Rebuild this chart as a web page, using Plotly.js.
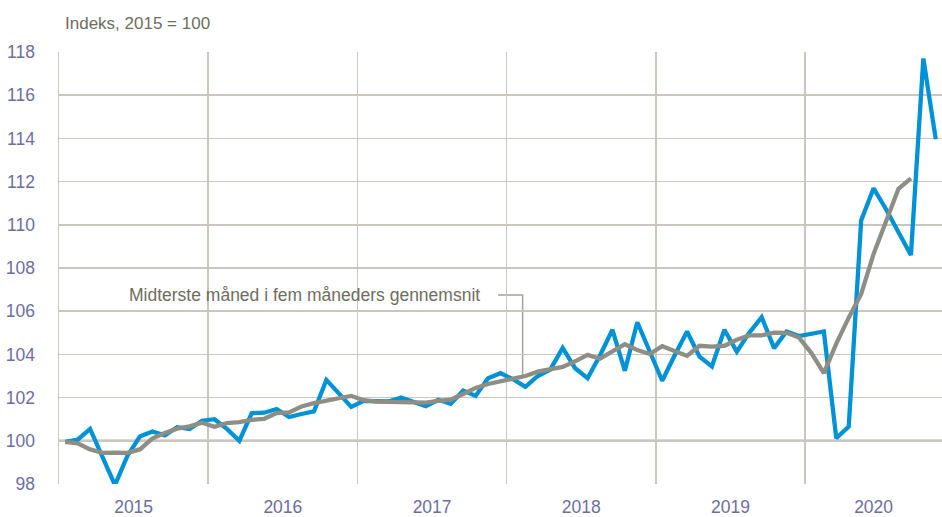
<!DOCTYPE html>
<html>
<head>
<meta charset="utf-8">
<script src="https://cdn.plot.ly/plotly-3.0.1.min.js"></script>
<style>
  html, body { margin: 0; padding: 0; background: #ffffff; }
  #chart { width: 942px; height: 517px; }
</style>
</head>
<body>
<div id="chart"></div>
<script>
// Year labels on the x axis
const years = ['2015', '2016', '2017', '2018', '2019', '2020'];

// Monthly index, Jan 2015 - Nov 2020 (2015 = 100)
const indeks2015 = [99.95, 100.05, 100.55, 99.25, 97.95, 99.3, 100.2, 100.43, 100.25, 100.63, 100.55, 100.93];
const indeks2016 = [101.0, 100.55, 100.0, 101.28, 101.3, 101.47, 101.1, 101.24, 101.36, 102.82, 102.2, 101.57];
const indeks2017 = [101.85, 101.85, 101.82, 102.0, 101.8, 101.6, 101.9, 101.71, 102.33, 102.08, 102.9, 103.13];
const indeks2018 = [102.85, 102.5, 103.0, 103.3, 104.3, 103.36, 102.9, 103.95, 105.14, 103.24, 105.49, 104.1];
const indeks2019 = [102.78, 103.95, 105.06, 103.9, 103.44, 105.14, 104.13, 105.0, 105.72, 104.29, 105.06, 104.85];
const indeks2020 = [104.98, 105.06, 100.12, 100.66, 110.2, 111.69, 110.72, 109.7, 108.6, 117.7, 113.96];

// Middle month of five-month average, Jan 2015 - Sep 2020
const snit2015 = [99.95, 99.88, 99.6, 99.44, 99.45, 99.44, 99.6, 100.1, 100.36, 100.56, 100.67, 100.84];
const snit2016 = [100.65, 100.82, 100.86, 100.97, 101.02, 101.28, 101.31, 101.59, 101.74, 101.83, 101.97, 102.08];
const snit2017 = [101.88, 101.81, 101.8, 101.79, 101.77, 101.77, 101.85, 101.9, 102.17, 102.45, 102.63, 102.75];
const snit2018 = [102.9, 103.0, 103.2, 103.3, 103.42, 103.68, 103.98, 103.8, 104.16, 104.47, 104.2, 104.02];
const snit2019 = [104.38, 104.13, 103.93, 104.4, 104.36, 104.4, 104.68, 104.88, 104.88, 105.01, 105.0, 104.78];
const snit2020 = [104.06, 103.13, 104.5, 105.7, 106.8, 108.65, 110.2, 111.67, 112.15];

const BASE = 100;
const annotationText = 'Midterste måned i fem måneders gennemsnit';
const titleText = 'Indeks, 2015 = 100';

const indeks = [].concat(indeks2015, indeks2016, indeks2017, indeks2018, indeks2019, indeks2020);
const snit = [].concat(snit2015, snit2016, snit2017, snit2018, snit2019, snit2020);
const xi = indeks.map((_, i) => i);
const xs = snit.map((_, i) => i);

const xMin = -0.5, xMax = indeks.length - 0.5;
const yearCenters = years.map((_, k) => {
  const a = Math.max(12 * k - 0.5, xMin), b = Math.min(12 * k + 11.5, xMax);
  return (a + b) / 2;
});
const yearBounds = years.slice(1).map((_, k) => 12 * (k + 1) - 0.5);

const FONT = '"Liberation Sans", Arial, sans-serif';
const tickColor = '#6d6da3';
const textColor = '#6e6e60';
const gridColor = '#c9c7bd';

const traces = [
  { x: xi, y: indeks, type: 'scatter', mode: 'lines',
    line: { color: '#0092d6', width: 4.3 }, hoverinfo: 'skip', showlegend: false },
  { x: xs, y: snit, type: 'scatter', mode: 'lines',
    line: { color: '#8f8e84', width: 4.3 }, hoverinfo: 'skip', showlegend: false }
];

const layout = {
  width: 942, height: 517,
  margin: { l: 59, r: 0, t: 52, b: 33 },
  paper_bgcolor: '#ffffff', plot_bgcolor: '#ffffff',
  font: { family: FONT, size: 17, color: tickColor },
  title: { text: titleText, font: { family: FONT, size: 17, color: textColor },
           xref: 'container', yref: 'container', x: 65 / 942, xanchor: 'left',
           y: 1 - 23 / 517, yanchor: 'middle' },
  xaxis: {
    range: [xMin, xMax], tickmode: 'array', tickvals: yearCenters, ticktext: years,
    showgrid: false, zeroline: false, ticks: '', ticklabelstandoff: 10,
    tickfont: { family: FONT, size: 17.5, color: tickColor },
    minor: { tickmode: 'array', tickvals: yearBounds, showgrid: true, gridcolor: gridColor, gridwidth: 1.5, ticks: '' },
    showline: false, fixedrange: true
  },
  yaxis: {
    range: [98, 118], tickmode: 'linear', tick0: 98, dtick: 2,
    showgrid: true, gridcolor: gridColor, gridwidth: 1.5, zeroline: false,
    showline: true, linecolor: gridColor, linewidth: 1.5,
    ticks: '', ticklabelstandoff: 19,
    tickfont: { family: FONT, size: 17.5, color: tickColor }, fixedrange: true
  },
  shapes: [
    { type: 'line', xref: 'paper', x0: 0, x1: 1, yref: 'y', y0: BASE, y1: BASE,
      line: { color: '#6b6a5c', width: 2 }, layer: 'below' },
    { type: 'path', xref: 'x', yref: 'y', path: 'M 34.8,106.75 H 36.78 V 102.95',
      line: { color: '#a3a196', width: 1.5 }, layer: 'below' }
  ],
  annotations: [
    { text: annotationText, xref: 'x', yref: 'y', x: 33.5, y: 106.75,
      xanchor: 'right', yanchor: 'middle', showarrow: false,
      font: { family: FONT, size: 17.5, color: textColor } }
  ]
};

Plotly.newPlot('chart', traces, layout, { displayModeBar: false, staticPlot: true });
</script>
</body>
</html>
